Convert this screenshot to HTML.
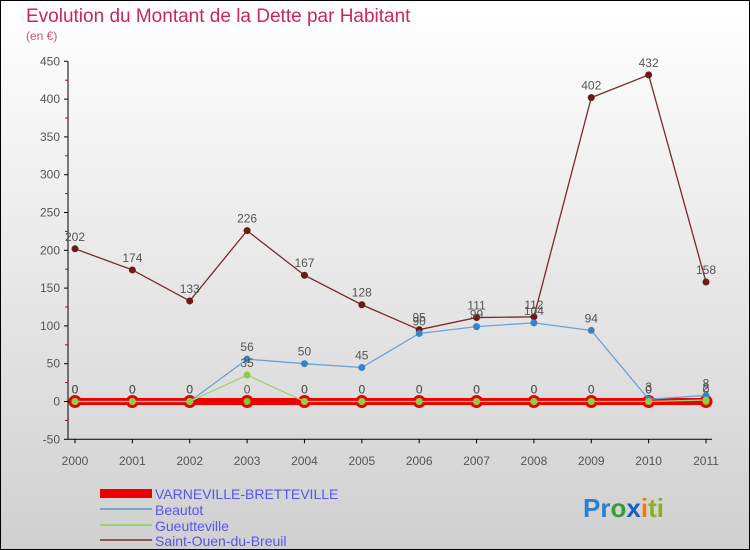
<!DOCTYPE html>
<html><head><meta charset="utf-8"><style>
body{margin:0}
svg{display:block;font-family:"Liberation Sans",sans-serif}
</style></head><body>
<svg id="c" width="750" height="550" xmlns="http://www.w3.org/2000/svg">
<defs><linearGradient id="bg" x1="0" y1="0" x2="0" y2="1"><stop offset="0" stop-color="#ffffff"/><stop offset="1" stop-color="#d0d0d0"/></linearGradient></defs>
<rect x="0.5" y="0.5" width="749" height="549" fill="url(#bg)" stroke="#000"/>
<text x="26" y="22" font-size="19" fill="#c8285a">Evolution du Montant de la Dette par Habitant</text>
<text x="26" y="40" font-size="12" fill="#d0507a">(en €)</text>
<g id="axes"></g><g id="series"></g>
<g>
<rect x="100" y="489" width="52" height="9" fill="#e00"/>
<text x="155" y="499" font-size="14" fill="#5555ee">VARNEVILLE-BRETTEVILLE</text>
<line x1="100" y1="509" x2="152" y2="509" stroke="#7aa6cc" stroke-width="2"/>
<text x="155" y="515" font-size="14" fill="#5555ee">Beautot</text>
<line x1="100" y1="525" x2="152" y2="525" stroke="#9ed07a" stroke-width="2"/>
<text x="155" y="531" font-size="14" fill="#5555ee">Gueutteville</text>
<line x1="100" y1="540" x2="152" y2="540" stroke="#8a5a5a" stroke-width="2"/>
<text x="155" y="546" font-size="14" fill="#5555ee">Saint-Ouen-du-Breuil</text>
</g>
<text x="583" y="517" font-size="26" font-weight="bold"><tspan fill="#2a7fd0">Pr</tspan><tspan fill="#3a9a3a">o</tspan><tspan fill="#1a5fc0">x</tspan><tspan fill="#f07a10">i</tspan><tspan fill="#8ab020">ti</tspan></text>
</svg>
<script>
const years=[2000,2001,2002,2003,2004,2005,2006,2007,2008,2009,2010,2011];
const yTicks=[-50,0,50,100,150,200,250,300,350,400,450];
const varneville=[0,0,0,0,0,0,0,0,0,0,0,0];
const beautot=[0,0,0,56,50,45,90,99,104,94,3,8];
const gueutteville=[0,0,0,35,0,0,0,0,0,0,0,2];
const saintOuen=[202,174,133,226,167,128,95,111,112,402,432,158];
const NS="http://www.w3.org/2000/svg";
const X=i=>75+i*(706-75)/11;
const Y=v=>401.5-v*(378/500);
function mk(t,a,p){const e=document.createElementNS(NS,t);for(const k in a)e.setAttribute(k,a[k]);p.appendChild(e);return e;}
const ax=document.getElementById('axes');
mk('line',{x1:68,y1:Y(-50),x2:68,y2:Y(450),stroke:'#000'},ax);
mk('line',{x1:68,y1:Y(-50),x2:712,y2:Y(-50),stroke:'#000'},ax);
yTicks.forEach((v,k)=>{
 mk('line',{x1:64,y1:Y(v),x2:68,y2:Y(v),stroke:'#000'},ax);
 if(k<yTicks.length-1) mk('line',{x1:65,y1:Y(v+25),x2:68,y2:Y(v+25),stroke:'#c00'},ax);
 const t=mk('text',{x:60,y:Y(v)+4,'font-size':12,fill:'#555','text-anchor':'end'},ax);t.textContent=v;
 
 
});
years.forEach((y,i)=>{
 mk('line',{x1:X(i),y1:Y(-50),x2:X(i),y2:Y(-50)+4,stroke:'#000'},ax);
 const t=mk('text',{x:X(i),y:465,'font-size':12,fill:'#555','text-anchor':'middle'},ax);t.textContent=y;
 
 
});
const sg=document.getElementById('series');
function series(vals,color,w,r,fill,stroke,name){
 const g=mk('g',{},sg);
 
 
 mk('polyline',{points:vals.map((v,i)=>X(i)+','+Y(v)).join(' '),fill:'none',stroke:color,'stroke-width':w},g);
 vals.forEach((v,i)=>{
  const c=mk('circle',{cx:X(i),cy:Y(v),r:r,fill:fill,stroke:stroke,'stroke-width':stroke==='none'?0:3},g);
  
  
  const t=mk('text',{x:X(i),y:Y(v)-8,'font-size':12,fill:'#555','text-anchor':'middle'},g);t.textContent=v;
 });
}
series(varneville,'#e00',7,5,'#7ccc2a','#e00','series-varneville');
series(saintOuen,'#7a2a2a',1.3,3.5,'#6a1a1a','none','series-saint-ouen');
series(beautot,'#6aa2d6',1.3,3.5,'#3a82c6','none','series-beautot');
series(gueutteville,'#9ed07a',1.3,3.5,'#8cd04a','none','series-gueutteville');
</script>
</body></html>
